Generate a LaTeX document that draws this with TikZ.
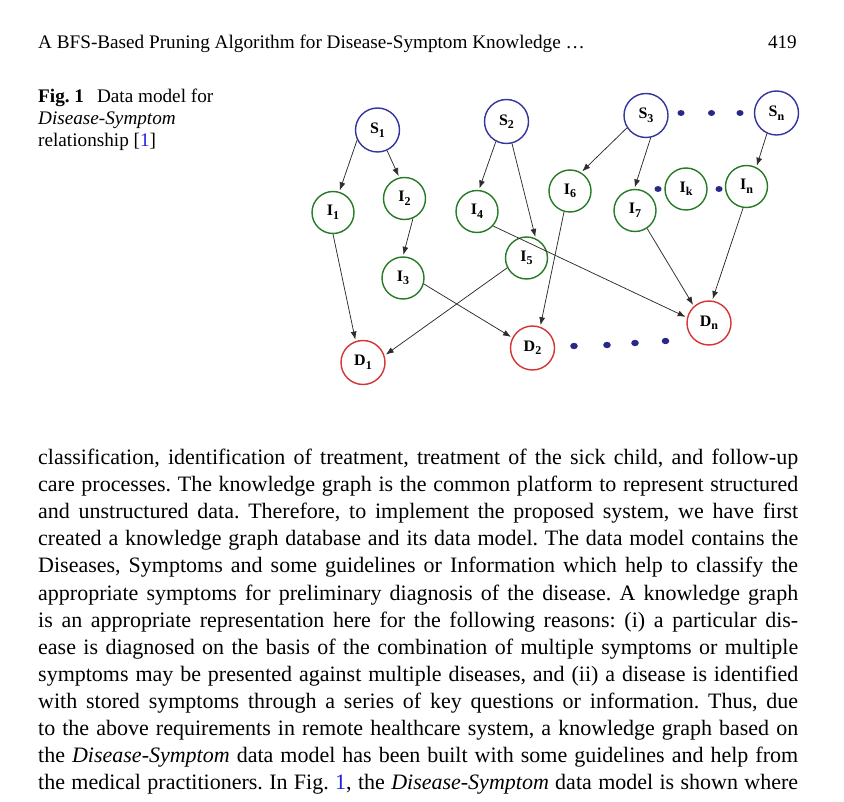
\documentclass[tikz,border=0pt]{standalone}
\usepackage{fontspec}
\setmainfont{Liberation Serif}
\usetikzlibrary{arrows.meta}
\definecolor{sblue}{RGB}{52,52,160}
\definecolor{igreen}{RGB}{38,122,38}
\definecolor{dred}{RGB}{214,52,52}
\definecolor{dotblue}{RGB}{40,40,135}
\definecolor{linkblue}{RGB}{30,30,225}
\definecolor{edgegray}{RGB}{45,45,45}
\newcommand\mybody{\fontsize{22}{27}\selectfont}
\newcommand\myhead{\fontsize{19.2}{22}\selectfont}
\newcommand\mylab{\fontsize{16}{16}\selectfont\bfseries}
\newcommand\sbs[1]{\raisebox{-3.5pt}{\fontsize{12}{12}\selectfont #1}}
\begin{document}
\frenchspacing
\begin{tikzpicture}[x=1pt,y=-1pt,
  snode/.style={circle,draw=sblue,line width=1.4pt,minimum size=44pt,inner sep=0pt,font=\mylab},
  inode/.style={circle,draw=igreen,line width=1.4pt,minimum size=42pt,inner sep=0pt,font=\mylab},
  dnode/.style={circle,draw=dred,line width=1.4pt,minimum size=44pt,inner sep=0pt,font=\mylab},
  arr/.style={draw=edgegray,line width=0.75pt,-{Latex[length=8pt,width=6pt]},shorten >=1.5pt},
  txt/.style={anchor=base west,inner sep=0pt},
  dotd/.style={fill=dotblue}]
\fill[white] (0,0) rectangle (844,802);
\useasboundingbox (0,0) rectangle (844,802);

% header
\node[txt,font=\myhead] (hdr) at (38,48.3) {A BFS-Based Pruning Algorithm for Disease-Symptom Knowledge …};
\node[anchor=base east,inner sep=0pt,font=\myhead] (pg) at (797,48.3) {419};

% caption
\node[txt,font=\myhead] (cap1) at (38,102.7) {\textbf{Fig. 1}\hspace{13pt}Data model for};
\node[txt,font=\myhead] (cap2) at (38,125) {\textit{Disease-Symptom}};
\node[txt,font=\myhead] (cap3) at (38,147) {relationship [\textcolor{linkblue}{1}]};

% graph nodes
\node[snode] (S1) at (377.5,130) {S\sbs{1}};
\node[snode] (S2) at (506.5,121.5) {S\sbs{2}};
\node[snode] (S3) at (646,115.5) {S\sbs{3}};
\node[snode] (Sn) at (776.5,113) {S\sbs{n}};
\node[inode] (I1) at (333,212.5) {I\sbs{1}};
\node[inode] (I2) at (404.5,198.5) {I\sbs{2}};
\node[inode] (I3) at (403,278) {I\sbs{3}};
\node[inode] (I4) at (477,211.5) {I\sbs{4}};
\node[inode] (I5) at (526.5,258) {I\sbs{5}};
\node[inode] (I6) at (570,191) {I\sbs{6}};
\node[inode] (I7) at (635,210.5) {I\sbs{7}};
\node[inode] (Ik) at (686,189) {I\sbs{k}};
\node[inode] (In) at (746.5,186.5) {I\sbs{n}};
\node[dnode] (D1) at (363,362.5) {D\sbs{1}};
\node[dnode] (D2) at (532.5,348) {D\sbs{2}};
\node[dnode] (Dn) at (709,323) {D\sbs{n}};

% connectors
\draw[arr] (S1.206) -- (I1.73);
\draw[arr] (S1.295) -- (I2.104);
\draw[arr] (I2.293) -- (I3.90);
\draw[arr] (I1.270) -- (D1.109);
\draw[arr] (I3.344) -- (D2.153);
\draw[arr] (I5.207) -- (D1.18);
\draw[arr] (S2.242) -- (I4.85);
\draw[arr] (S2.284) -- (I5.65);
\draw[arr] (I4.318) -- (Dn.166);
\draw[arr] (I6.254) -- (D2.70);
\draw[arr] (S3.213) -- (I6.59);
\draw[arr] (S3.282) -- (I7.92);
\draw[arr] (Sn.245) -- (In.63);
\draw[arr] (I7.304) -- (Dn.132);
\draw[arr] (In.261) -- (Dn.82);

% ellipsis dots
\fill[dotd] (681,113) ellipse (3.5 and 3);
\fill[dotd] (711.5,113) ellipse (3.5 and 3);
\fill[dotd] (740,113) ellipse (3.5 and 3);
\fill[dotd] (658,189) ellipse (3.5 and 3);
\fill[dotd] (719,189) ellipse (3.5 and 3);
\fill[dotd] (574,346) ellipse (3.8 and 3.2);
\fill[dotd] (607,345) ellipse (3.8 and 3.2);
\fill[dotd] (635,343) ellipse (3.8 and 3.2);
\fill[dotd] (665.5,341) ellipse (3.8 and 3.2);

% body text
\node[txt,font=\mybody] (l1) at (38,464.5) {\hbox to 760pt{classification, identification of treatment, treatment of the sick child, and follow-up}};
\node[txt,font=\mybody] (l2) at (38,491.6) {\hbox to 760pt{care processes. The knowledge graph is the common platform to represent structured}};
\node[txt,font=\mybody] (l3) at (38,518.7) {\hbox to 760pt{and unstructured data. Therefore, to implement the proposed system, we have first}};
\node[txt,font=\mybody] (l4) at (38,545.8) {\hbox to 760pt{created a knowledge graph database and its data model. The data model contains the}};
\node[txt,font=\mybody] (l5) at (38,572.9) {\hbox to 760pt{Diseases, Symptoms and some guidelines or Information which help to classify the}};
\node[txt,font=\mybody] (l6) at (38,600.0) {\hbox to 760pt{appropriate symptoms for preliminary diagnosis of the disease. A knowledge graph}};
\node[txt,font=\mybody] (l7) at (38,627.1) {\hbox to 760pt{is an appropriate representation here for the following reasons: (i) a particular dis-}};
\node[txt,font=\mybody] (l8) at (38,654.2) {\hbox to 760pt{ease is diagnosed on the basis of the combination of multiple symptoms or multiple}};
\node[txt,font=\mybody] (l9) at (38,681.3) {\hbox to 760pt{symptoms may be presented against multiple diseases, and (ii) a disease is identified}};
\node[txt,font=\mybody] (l10) at (38,708.4) {\hbox to 760pt{with stored symptoms through a series of key questions or information. Thus, due}};
\node[txt,font=\mybody] (l11) at (38,735.5) {\hbox to 760pt{to the above requirements in remote healthcare system, a knowledge graph based on}};
\node[txt,font=\mybody] (l12) at (38,762.6) {\hbox to 760pt{the \textit{Disease-Symptom} data model has been built with some guidelines and help from}};
\node[txt,font=\mybody] (l13) at (38,789.7) {\hbox to 760pt{the medical practitioners. In Fig. \textcolor{linkblue}{1}, the \textit{Disease-Symptom} data model is shown where}};
\end{tikzpicture}
\end{document}
